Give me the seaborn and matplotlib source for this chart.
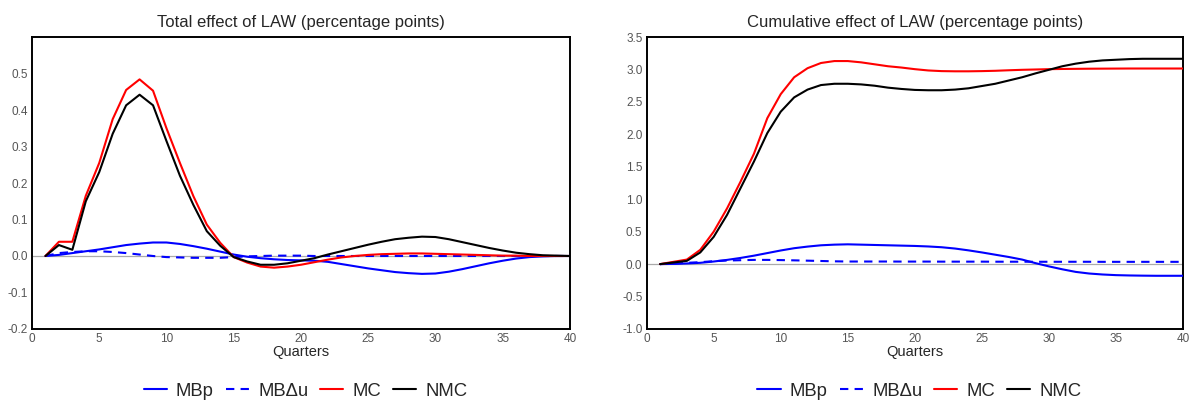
import numpy as np
import pandas as pd
import matplotlib
matplotlib.use("Agg")
import matplotlib.pyplot as plt
import seaborn as sns

quarters = list(range(1, 41))

# Left panel: total effect
total_mbp = [0, 0.003, 0.008, 0.013, 0.018, 0.024, 0.030, 0.034, 0.037, 0.037,
             0.033, 0.027, 0.020, 0.012, 0.004, -0.002, -0.006, -0.009, -0.011, -0.012,
             -0.013, -0.016, -0.022, -0.028, -0.034, -0.039, -0.044, -0.047, -0.049, -0.048,
             -0.043, -0.036, -0.028, -0.020, -0.013, -0.007, -0.003, -0.001, 0.0, 0.0]
total_mbdu = [0, 0.008, 0.011, 0.013, 0.013, 0.011, 0.008, 0.004, 0.0, -0.003,
              -0.004, -0.005, -0.005, -0.005, -0.003, -0.001, 0.0, 0.001, 0.001, 0.001,
              0.0, 0.0, 0.0, 0.0, 0.0, 0.0, 0.0, 0.0, 0.0, 0.0,
              0.0, 0.0, 0.0, 0.0, 0.0, 0.0, 0.0, 0.0, 0.0, 0.0]
total_mc = [0, 0.039, 0.039, 0.165, 0.255, 0.375, 0.455, 0.484, 0.453, 0.350,
            0.255, 0.164, 0.086, 0.036, -0.003, -0.018, -0.029, -0.032, -0.029, -0.024,
            -0.017, -0.010, -0.004, 0.0, 0.003, 0.005, 0.006, 0.007, 0.007, 0.006,
            0.005, 0.004, 0.003, 0.002, 0.001, 0.001, 0.0, 0.0, 0.0, 0.0]
total_nmc = [0, 0.030, 0.017, 0.150, 0.230, 0.335, 0.413, 0.442, 0.413, 0.315,
             0.220, 0.140, 0.068, 0.028, -0.003, -0.015, -0.024, -0.024, -0.020, -0.013,
             -0.006, 0.004, 0.013, 0.022, 0.031, 0.039, 0.046, 0.050, 0.053, 0.052,
             0.046, 0.038, 0.030, 0.022, 0.015, 0.009, 0.005, 0.002, 0.001, 0.0]

# Right panel: cumulative effect
cum_mbp = [0, 0.003, 0.010, 0.020, 0.040, 0.065, 0.095, 0.130, 0.170, 0.210,
           0.245, 0.270, 0.290, 0.300, 0.305, 0.300, 0.295, 0.290, 0.285, 0.280,
           0.272, 0.260, 0.240, 0.212, 0.180, 0.145, 0.110, 0.070, 0.015, -0.035,
           -0.080, -0.120, -0.145, -0.160, -0.170, -0.175, -0.178, -0.180, -0.180, -0.180]
cum_mbdu = [0, 0.008, 0.020, 0.030, 0.045, 0.055, 0.060, 0.065, 0.065, 0.062,
            0.058, 0.053, 0.048, 0.043, 0.040, 0.040, 0.040, 0.040, 0.039, 0.039,
            0.039, 0.038, 0.038, 0.038, 0.038, 0.037, 0.037, 0.037, 0.036, 0.036,
            0.036, 0.036, 0.036, 0.035, 0.035, 0.035, 0.035, 0.035, 0.035, 0.035]
cum_mc = [0, 0.035, 0.070, 0.220, 0.500, 0.860, 1.270, 1.700, 2.250, 2.620,
          2.880, 3.020, 3.100, 3.130, 3.130, 3.110, 3.080, 3.050, 3.030, 3.005,
          2.985, 2.975, 2.972, 2.972, 2.975, 2.980, 2.988, 2.995, 3.000, 3.005,
          3.008, 3.010, 3.012, 3.013, 3.014, 3.015, 3.015, 3.015, 3.015, 3.015]
cum_nmc = [0, 0.025, 0.050, 0.180, 0.420, 0.760, 1.170, 1.580, 2.020, 2.350,
           2.570, 2.690, 2.760, 2.780, 2.780, 2.770, 2.750, 2.720, 2.700, 2.685,
           2.680, 2.680, 2.690, 2.710, 2.745, 2.780, 2.830, 2.880, 2.940, 2.995,
           3.050, 3.090, 3.120, 3.140, 3.150, 3.160, 3.165, 3.165, 3.165, 3.165]

labels = ["MBp", "MB\u0394u", "MC", "NMC"]
colors = ["#0000FF", "#0000FF", "#FF0000", "#000000"]
styles = ["-", (0, (4, 3)), "-", "-"]

sns.set_style("white")
plt.rcParams['font.family'] = ['Liberation Sans', 'DejaVu Sans']

fig = plt.figure(figsize=(11.9, 4.01), dpi=100)
ax1 = fig.add_axes([0.0269, 0.1796, 0.452, 0.728])
ax2 = fig.add_axes([0.5434, 0.1796, 0.4507, 0.728])

panels = [
    (ax1, [total_mbp, total_mbdu, total_mc, total_nmc],
     "Total effect of LAW (percentage points)", (-0.2, 0.6),
     [-0.2, -0.1, 0.0, 0.1, 0.2, 0.3, 0.4, 0.5]),
    (ax2, [cum_mbp, cum_mbdu, cum_mc, cum_nmc],
     "Cumulative effect of LAW (percentage points)", (-1.0, 3.5),
     [-1.0, -0.5, 0.0, 0.5, 1.0, 1.5, 2.0, 2.5, 3.0, 3.5]),
]

for ax, series, title, ylim, yticks in panels:
    ax.axhline(0, color="#aaaaaa", lw=0.9, zorder=1)
    for vals, lab, col, ls in zip(series, labels, colors, styles):
        sns.lineplot(x=quarters, y=vals, ax=ax, color=col, linestyle=ls,
                     lw=1.5, label=lab, zorder=3)
    ax.set_xlim(0, 40)
    ax.set_ylim(*ylim)
    ax.set_xticks(range(0, 41, 5))
    ax.set_yticks(yticks)
    ax.set_yticklabels([f"{t:.1f}" for t in yticks])
    ax.set_title(title, fontsize=12, pad=7)
    ax.set_xlabel("Quarters", fontsize=10.5, labelpad=0)
    for sp in ax.spines.values():
        sp.set_visible(True)
        sp.set_color("black")
        sp.set_linewidth(1.4)
    ax.tick_params(axis="x", direction="in", length=3, width=0.8, colors="#333333",
                   labelsize=8.5, pad=3, labelcolor="#555555")
    ax.tick_params(axis="y", direction="in", length=3, width=0.8, colors="#333333",
                   labelsize=8.5, labelcolor="#555555", pad=3)
    ax.grid(False)
    h, l = ax.get_legend_handles_labels()
    ax.get_legend().remove()
    pos = ax.get_position()
    fig.legend(h, l, loc="center", bbox_to_anchor=(pos.x0 + pos.width / 2 + 0.004, 0.024),
               ncol=4, frameon=False, fontsize=13.3, handlelength=1.25,
               columnspacing=0.65, handletextpad=0.5)

fig.savefig("out.png", dpi=100)
